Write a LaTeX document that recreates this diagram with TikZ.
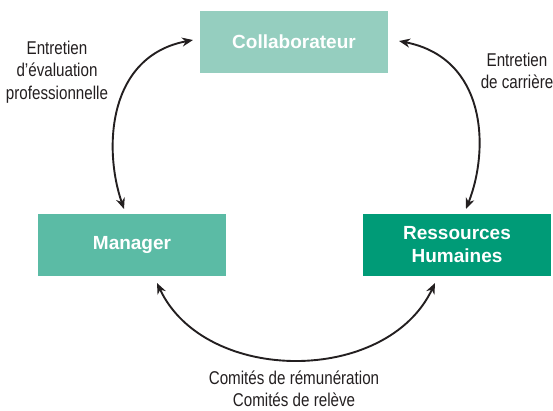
\documentclass[tikz,border=0pt]{standalone}
\usepackage{fontspec}
\setmainfont{Liberation Sans}
\newfontfamily\condfont[FakeStretch=0.82]{Liberation Sans}
\usetikzlibrary{arrows.meta}
\definecolor{colA}{HTML}{95CEBF}
\definecolor{colB}{HTML}{5BBBA5}
\definecolor{colC}{HTML}{009B77}
\definecolor{ink}{HTML}{231F20}
\tikzset{
  box/.style={minimum width=188pt, minimum height=62pt, inner sep=0pt, text=white, align=center, font=\bfseries\fontsize{19}{23}\selectfont},
  lbl/.style={align=center, text=ink, inner sep=0pt, font=\condfont\fontsize{18.5}{22.5}\selectfont},
  link/.style={draw=ink, line width=1.9pt, {Stealth[length=11pt,width=9pt]}-{Stealth[length=11pt,width=9pt]}}
}
\begin{document}
\begin{tikzpicture}[x=1pt,y=-1pt]
\useasboundingbox (0,0) rectangle (553,410);
\node[box, fill=colA] (col) at (294,41.5) {Collaborateur};
\node[box, fill=colB] (man) at (132,244.5) {Manager};
\node[box, fill=colC] (rh) at (457,244.5) {Ressources\\Humaines};
\coordinate (lt) at (193,40);
\coordinate (lb) at (124,209);
\coordinate (rt) at (399,41);
\coordinate (rb) at (466,209);
\coordinate (bl) at (157,283);
\coordinate (br) at (435,283);
\draw[link] (lb) .. controls (103,148) and (108,56) .. (lt);
\draw[link] (rb) .. controls (490,148) and (486,58) .. (rt);
\draw[link] (bl) .. controls (205,385) and (387,385) .. (br);
\node[lbl] (l1) at (57,72) {Entretien\\d’évaluation\\professionnelle};
\node[lbl] (l2) at (517,71) {Entretien\\de carrière};
\node[lbl] (l3) at (294,389) {Comités de rémunération\\Comités de relève};
\end{tikzpicture}
\end{document}
